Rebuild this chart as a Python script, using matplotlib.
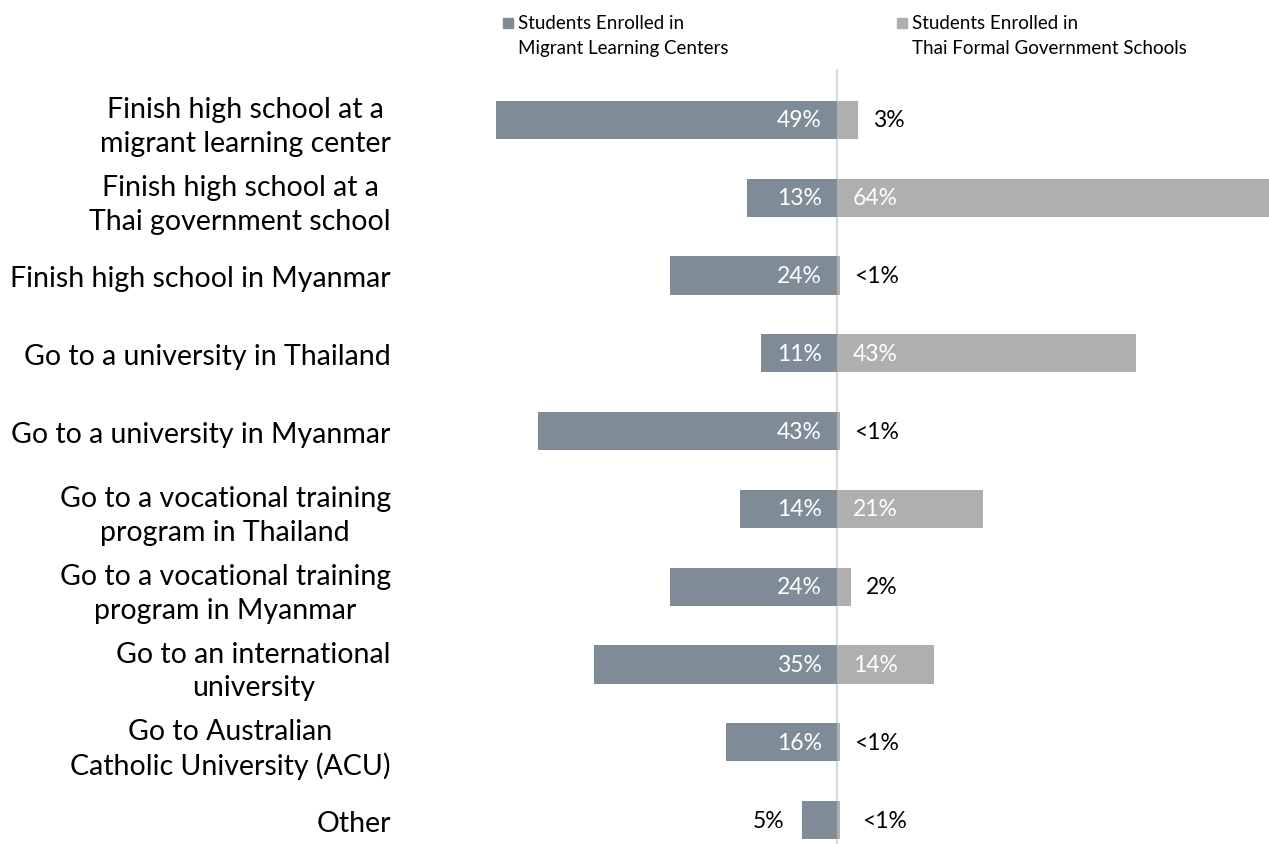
import matplotlib.pyplot as plt
from matplotlib.patches import Rectangle

plt.rcParams['font.family'] = ['Lato', 'DejaVu Sans']

categories = [
    "Finish high school at a\nmigrant learning center",
    "Finish high school at a\nThai government school",
    "Finish high school in Myanmar",
    "Go to a university in Thailand",
    "Go to a university in Myanmar",
    "Go to a vocational training\nprogram in Thailand",
    "Go to a vocational training\nprogram in Myanmar",
    "Go to an international\nuniversity",
    "Go to Australian\nCatholic University (ACU)",
    "Other",
]
migrant = [49, 13, 24, 11, 43, 14, 24, 35, 16, 5]
migrant_labels = ["49%", "13%", "24%", "11%", "43%", "14%", "24%", "35%", "16%", "5%"]
thai = [3, 64, 0.5, 43, 0.5, 21, 2, 14, 0.5, 0.5]
thai_labels = ["3%", "64%", "<1%", "43%", "<1%", "21%", "2%", "14%", "<1%", "<1%"]
series_names = ["Students Enrolled in\nMigrant Learning Centers",
                "Students Enrolled in\nThai Formal Government Schools"]

c_mig = "#7F8C97"
c_thai = "#AFAFAF"

W, H = 1269, 845
fig = plt.figure(figsize=(W / 100, H / 100), dpi=100)
ax_left = 395 / W
ax = fig.add_axes([ax_left, 0, 1 - ax_left, 1 - 70 / H])

scale = 6.95  # px per percent
ax.set_xlim(-(837 - 395) / scale, (W - 837) / scale)
ax.set_ylim(9 + (845 - 821) / 77.8, -(121 - 70) / 77.8)

y = list(range(len(categories)))
ax.barh(y, [-v for v in migrant], height=0.49, color=c_mig)
ax.barh(y, thai, height=0.49, color=c_thai)
ax.axvline(0, color="#D9D9D9", lw=1.5, zorder=0)

for i in y:
    m = migrant[i]
    if m >= 10:
        ax.text(-2.2, i, migrant_labels[i], ha="right", va="center",
                color="white", fontsize=16.5)
    else:
        ax.text(-m - 2.5, i, migrant_labels[i], ha="right", va="center",
                color="black", fontsize=16.5)
    t = thai[i]
    if t >= 10:
        ax.text(2.3, i, thai_labels[i], ha="left", va="center",
                color="white", fontsize=16.5)
    else:
        off = 3.1 if i == 9 else 2.0
        if t >= 2:
            off = 2.2
        ax.text(t + off, i, thai_labels[i], ha="left", va="center",
                color="black", fontsize=16.5)

ax.set_yticks(y)
ax.set_yticklabels(categories, fontsize=20.5, ha="right", linespacing=1.35)
for lbl in ax.get_yticklabels():
    lbl.set_multialignment("center")
ax.tick_params(axis="y", length=0, pad=3)
ax.set_xticks([])
for s in ax.spines.values():
    s.set_visible(False)

# legend
for (x0, name, col) in [(503, series_names[0], c_mig), (897, series_names[1], c_thai)]:
    fig.patches.append(Rectangle((x0 / W, 1 - 29 / H), 10 / W, 10 / H,
                                 transform=fig.transFigure, color=col))
    fig.text((x0 + 15) / W, 1 - 15 / H, name, ha="left", va="top",
             fontsize=13.5, linespacing=1.6)

fig.savefig("out.png", dpi=100)
